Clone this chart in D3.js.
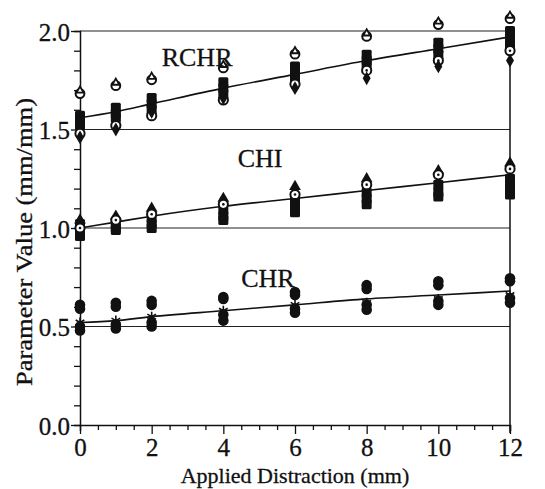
<!DOCTYPE html>
<html><head><meta charset="utf-8">
<script src="https://cdn.jsdelivr.net/npm/d3@7"></script>
<style>
html,body{margin:0;padding:0;background:#fff;}
svg text{font-family:"Liberation Serif","DejaVu Serif",serif;fill:#111;}
</style></head>
<body><svg id="c" width="545" height="489"></svg>
<script>
// ---- data ----
const distraction = [0, 1, 2, 4, 6, 8, 10, 12];
const xTickLabels = [0, 2, 4, 6, 8, 10, 12];
const yTickLabels = [0.0, 0.5, 1.0, 1.5, 2.0];
const referenceLevels = [0.5, 1.0, 1.5, 2.0];

// RCHR
const rchrA = [1.69, 1.73, 1.76, 1.82, 1.89, 1.98, 2.04, 2.07];
const rchrB = [1.57, 1.61, 1.66, 1.74, 1.82, 1.88, 1.94, 2.00];
const rchrC = [1.54, 1.58, 1.63, 1.71, 1.79, 1.85, 1.91, 1.96];
const rchrD = [1.52, 1.56, 1.60, 1.68, 1.76, 1.83, 1.88, 1.93];
const rchrE = [1.48, 1.52, 1.57, 1.65, 1.73, 1.80, 1.85, 1.90];
const rchrF = [1.46, 1.50, 1.59, 1.66, 1.71, 1.76, 1.82, 1.85];
const rchrFit = [1.56, 1.59, 1.63, 1.71, 1.78, 1.85, 1.91, 1.97];
// CHI
const chiA = [1.04, 1.06, 1.10, 1.15, 1.21, 1.25, 1.29, 1.33];
const chiB = [1.00, 1.04, 1.07, 1.12, 1.17, 1.22, 1.27, 1.30];
const chiC = [1.02, 1.02, 1.05, 1.09, 1.14, 1.18, 1.22, 1.25];
const chiD = [0.98, 1.00, 1.02, 1.06, 1.11, 1.15, 1.18, 1.21];
const chiE = [0.96, 0.99, 1.00, 1.04, 1.08, 1.12, 1.16, 1.17];
const chiFit = [1.00, 1.03, 1.06, 1.11, 1.15, 1.19, 1.23, 1.27];
// CHR
const chrA = [0.61, 0.62, 0.63, 0.65, 0.675, 0.71, 0.73, 0.745];
const chrB = [0.59, 0.60, 0.61, 0.64, 0.66, 0.69, 0.71, 0.73];
const chrC = [0.52, 0.53, 0.55, 0.58, 0.61, 0.62, 0.64, 0.66];
const chrD = [0.50, 0.51, 0.52, 0.56, 0.59, 0.61, 0.63, 0.645];
const chrE = [0.48, 0.49, 0.50, 0.53, 0.57, 0.585, 0.61, 0.62];
const chrFit = [0.52, 0.53, 0.55, 0.58, 0.61, 0.64, 0.66, 0.68];

const groupLabels = [
  {text: "RCHR", x: 2.28, y: 1.82},
  {text: "CHI", x: 4.4, y: 1.31},
  {text: "CHR", x: 4.5, y: 0.70}
];

const series = [
  {v: rchrA, m: "triOpen"}, {v: rchrB, m: "square"}, {v: rchrC, m: "square"},
  {v: rchrD, m: "square"}, {v: rchrE, m: "circleDot"}, {v: rchrF, m: "diamond"},
  {v: chiA, m: "triangle"}, {v: chiC, m: "square"}, {v: chiD, m: "square"},
  {v: chiE, m: "square"}, {v: chiB, m: "circleDot"},
  {v: chrA, m: "circle"}, {v: chrB, m: "circle"}, {v: chrD, m: "circle"},
  {v: chrE, m: "circle"}, {v: chrC, m: "asterisk"}
];
const fits = [rchrFit, chiFit, chrFit];

// ---- chart ----
const svg = d3.select("#c");
const x = d3.scaleLinear().domain([0, 12]).range([80, 510]);
const y = d3.scaleLinear().domain([0, 2]).range([425, 31]);

// reference lines
svg.append("g").selectAll("line").data(referenceLevels).join("line")
  .attr("x1", x(0)).attr("x2", x(12)).attr("y1", d => y(d)).attr("y2", d => y(d))
  .attr("stroke", "#222").attr("stroke-width", 1.2);
// right frame
svg.append("line").attr("x1", x(12)).attr("x2", x(12)).attr("y1", y(2)).attr("y2", y(0) + 8)
  .attr("stroke", "#111").attr("stroke-width", 1.5);

// left axis
const yTicks = d3.range(0, 21).map(i => i / 10);
const yAxis = svg.append("g").attr("transform", `translate(${x(0)},0)`)
  .call(d3.axisLeft(y).tickValues(yTicks).tickSize(6).tickPadding(4)
    .tickFormat(d => yTickLabels.some(t => Math.abs(t - d) < 1e-6) ? d3.format(".1f")(d) : ""));
yAxis.select(".domain").attr("stroke", "#111").attr("stroke-width", 1.5);
yAxis.selectAll(".tick line").attr("stroke", "#111").attr("stroke-width", 1.3)
  .attr("x2", d => Math.abs(d * 2 - Math.round(d * 2)) < 1e-6 ? -9 : -6);
yAxis.selectAll(".tick text").attr("font-size", 25).attr("dy", "0.36em").attr("x", -10)
  .style("font-family", '"Liberation Serif",serif').attr("fill", "#111")
  .attr("stroke", "#111").attr("stroke-width", 0.3);

// bottom axis
const xTicks = d3.range(0, 25).map(i => i / 2);
const xAxis = svg.append("g").attr("transform", `translate(0,${y(0)})`)
  .call(d3.axisBottom(x).tickValues(xTicks).tickSize(6).tickPadding(4)
    .tickFormat(d => xTickLabels.includes(d) ? d : ""));
xAxis.select(".domain").attr("stroke", "#111").attr("stroke-width", 1.5);
xAxis.selectAll(".tick line").attr("stroke", "#111").attr("stroke-width", 1.3)
  .attr("y2", d => d % 2 === 0 ? 9 : 5);
xAxis.selectAll(".tick text").attr("font-size", 25).attr("y", 13)
  .style("font-family", '"Liberation Serif",serif').attr("fill", "#111")
  .attr("stroke", "#111").attr("stroke-width", 0.3);

// fitted curves
const line = d3.line().x((d, i) => x(distraction[i])).y(d => y(d)).curve(d3.curveMonotoneX);
svg.append("g").selectAll("path").data(fits).join("path")
  .attr("d", line).attr("fill", "none").attr("stroke", "#111").attr("stroke-width", 1.6);

// markers
const mg = svg.append("g");
series.forEach(s => {
  s.v.forEach((val, i) => {
    const cx = x(distraction[i]), cy = y(val);
    const g = mg.append("g").attr("transform", `translate(${cx},${cy})`);
    if (s.m === "circleDot") {
      g.append("circle").attr("r", 4.6).attr("fill", "#fff").attr("stroke", "#111").attr("stroke-width", 2);
      g.append("circle").attr("r", 1.3).attr("fill", "#111");
    } else if (s.m === "triOpen") {
      g.append("circle").attr("cy", 1.5).attr("r", 4.4).attr("fill", "#fff").attr("stroke", "#111").attr("stroke-width", 2);
      g.append("path").attr("d", d3.symbol(d3.symbolTriangle, 22)()).attr("transform", "translate(0,-1.5)")
        .attr("fill", "#fff").attr("stroke", "#111").attr("stroke-width", 1.8);
    } else if (s.m === "triangle") {
      g.append("path").attr("d", d3.symbol(d3.symbolTriangle, 60)()).attr("fill", "#111");
    } else if (s.m === "square") {
      g.append("rect").attr("x", -5).attr("y", -5).attr("width", 10).attr("height", 10)
        .attr("rx", 1.5).attr("fill", "#111");
    } else if (s.m === "diamond") {
      g.append("path").attr("d", d3.symbol(d3.symbolDiamond, 55)()).attr("fill", "#111");
    } else if (s.m === "circle") {
      g.append("circle").attr("r", 5.3).attr("fill", "#111");
    } else if (s.m === "asterisk") {
      g.append("path").attr("d", d3.symbol(d3.symbolAsterisk, 70)()).attr("fill", "none")
        .attr("stroke", "#111").attr("stroke-width", 1.6);
    }
  });
});

// group labels
svg.append("g").selectAll("text").data(groupLabels).join("text")
  .attr("x", d => x(d.x)).attr("y", d => y(d.y)).attr("font-size", 26)
  .attr("stroke", "#111").attr("stroke-width", 0.3).text(d => d.text);

// axis titles
svg.append("text").attr("x", 295).attr("y", 483).attr("text-anchor", "middle")
  .attr("font-size", 22)
  .attr("stroke", "#111").attr("stroke-width", 0.3)
  .text("Applied Distraction (mm)");
svg.append("text").attr("transform", "translate(32,242) rotate(-90)").attr("text-anchor", "middle")
  .attr("font-size", 23).attr("textLength", 288).attr("lengthAdjust", "spacingAndGlyphs")
  .attr("stroke", "#111").attr("stroke-width", 0.3)
  .text("Parameter Value (mm/mm)");
</script></body></html>
